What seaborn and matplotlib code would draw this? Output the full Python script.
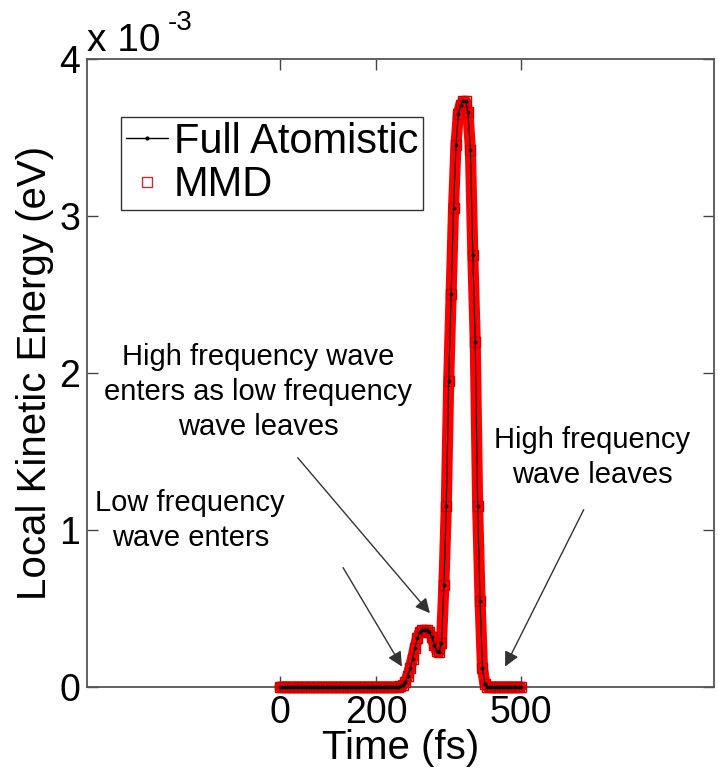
import matplotlib
matplotlib.use("Agg")
import matplotlib.pyplot as plt
import pandas as pd
import seaborn as sns
from matplotlib.lines import Line2D

# ---------------- data (energies in units of 1e-3 eV) ----------------
time_fs = [0, 5, 10, 15, 20, 25, 30, 35, 40, 45, 50, 55, 60, 65, 70, 75, 80, 85, 90, 95,
           100, 105, 110, 115, 120, 125, 130, 135, 140, 145, 150, 155, 160, 165, 170, 175,
           180, 185, 190, 195, 200, 205, 210, 215, 220, 225, 230, 235, 240, 245,
           250, 255, 260, 265, 270, 275, 280, 285, 290, 295, 300, 305, 310, 315, 320, 325,
           330, 335, 340, 345, 350, 355, 360, 365, 370, 375, 380, 385, 390, 395, 400, 405,
           410, 415, 420, 425,
           430, 435, 440, 445, 450, 455, 460, 465, 470, 475, 480, 485, 490, 495, 500]
full_atomistic = [0.0, 0.0, 0.0, 0.0, 0.0, 0.0, 0.0, 0.0, 0.0, 0.0, 0.0, 0.0, 0.0, 0.0, 0.0,
                  0.0, 0.0, 0.0, 0.0, 0.0, 0.0, 0.0, 0.0, 0.0, 0.0, 0.0, 0.0, 0.0, 0.0, 0.0,
                  0.0, 0.0, 0.0, 0.0, 0.0, 0.0, 0.0, 0.0, 0.0, 0.0, 0.0, 0.0, 0.0, 0.0, 0.0,
                  0.0, 0.0, 0.0, 0.0, 0.0,
                  0.005, 0.01, 0.03, 0.07, 0.12, 0.18, 0.25, 0.31, 0.35, 0.36, 0.36, 0.36,
                  0.35, 0.32, 0.27, 0.23, 0.22, 0.28, 0.65, 1.15, 1.95, 2.50, 3.05, 3.45,
                  3.65, 3.71, 3.73, 3.73, 3.66, 3.42, 2.75, 2.20, 1.15, 0.55, 0.12, 0.02,
                  0.0, 0.0, 0.0, 0.0, 0.0, 0.0, 0.0, 0.0, 0.0, 0.0, 0.0, 0.0, 0.0, 0.0, 0.0]
mmd = [0.0, 0.0, 0.0, 0.0, 0.0, 0.0, 0.0, 0.0, 0.0, 0.0, 0.0, 0.0, 0.0, 0.0, 0.0,
       0.0, 0.0, 0.0, 0.0, 0.0, 0.0, 0.0, 0.0, 0.0, 0.0, 0.0, 0.0, 0.0, 0.0, 0.0,
       0.0, 0.0, 0.0, 0.0, 0.0, 0.0, 0.0, 0.0, 0.0, 0.0, 0.0, 0.0, 0.0, 0.0, 0.0,
       0.0, 0.0, 0.0, 0.0, 0.0,
       0.005, 0.01, 0.03, 0.07, 0.12, 0.18, 0.25, 0.31, 0.35, 0.36, 0.36, 0.36,
       0.35, 0.32, 0.27, 0.23, 0.22, 0.28, 0.65, 1.15, 1.95, 2.50, 3.05, 3.45,
       3.65, 3.71, 3.73, 3.73, 3.66, 3.42, 2.75, 2.20, 1.15, 0.55, 0.12, 0.02,
       0.0, 0.0, 0.0, 0.0, 0.0, 0.0, 0.0, 0.0, 0.0, 0.0, 0.0, 0.0, 0.0, 0.0, 0.0]

series_labels = ["Full Atomistic", "MMD"]
x_ticks = [0, 200, 500]
y_ticks = [0, 1, 2, 3, 4]
x_label = "Time (fs)"
y_label = "Local Kinetic Energy (eV)"
annotations = [
    ("Low frequency\nwave enters", (-186, 1.06), (253, 0.13), (131, 0.76)),
    ("High frequency wave\nenters as low frequency\nwave leaves", (-45, 1.88), (311, 0.47), (37, 1.46)),
    ("High frequency\nwave leaves", (647, 1.46), (467, 0.13), (630, 1.13)),
]

df = pd.DataFrame({"time": time_fs, "fa": full_atomistic, "mmd": mmd})

# ---------------- style ----------------
sns.set_style("white")
plt.rcParams["font.family"] = ["Liberation Sans", "DejaVu Sans"]
plt.rcParams["text.color"] = "black"
plt.rcParams["axes.labelcolor"] = "black"

fig = plt.figure(figsize=(7.19, 7.76), dpi=100)
ax = fig.add_axes([0.121, 0.1147, 0.872, 0.8093])

# MMD: thick red band with hollow squares
sns.lineplot(data=df, x="time", y="mmd", ax=ax, color="#ff0000", linewidth=8,
             marker="s", markersize=7, markerfacecolor="none", markeredgecolor="#d00000",
             markeredgewidth=1.0, clip_on=False, legend=False, zorder=3)
# Full atomistic: thin black line with dots
sns.lineplot(data=df, x="time", y="fa", ax=ax, color="black", linewidth=0.8,
             marker=".", markersize=4, markeredgecolor="black", clip_on=False,
             legend=False, zorder=4)

ax.set_xlim(-400, 900)
ax.set_ylim(0, 4)
ax.set_xticks(x_ticks)
ax.set_yticks(y_ticks)
ax.tick_params(direction="in", length=8, width=1, colors="#444444", labelcolor="black",
               labelsize=27, top=True, right=True, bottom=True, left=True)
ax.tick_params(axis="x", pad=6)
ax.tick_params(axis="y", pad=5)
for s in ax.spines.values():
    s.set_color("#555555")
    s.set_linewidth(1.3)
    s.set_visible(True)

ax.set_xlabel(x_label, fontsize=29, labelpad=-2, color="black")
ax.set_ylabel(y_label, fontsize=29, labelpad=4, color="black")

# MATLAB-style exponent label
ax.text(0.0, 1.012, "x 10", transform=ax.transAxes, fontsize=28,
        ha="left", va="baseline", color="black")
ax.text(0.128, 1.046, "-3", transform=ax.transAxes, fontsize=20,
        ha="left", va="baseline", color="black")

for txt, txy, tip, tail in annotations:
    ax.text(txy[0], txy[1], txt, fontsize=21, ha="center", va="center",
            linespacing=1.32, color="black")
    ax.annotate("", xy=tip, xytext=tail,
                arrowprops=dict(arrowstyle="-|>", color="#333333", lw=1.0,
                                mutation_scale=22, shrinkA=0, shrinkB=0))

handles = [
    Line2D([], [], color="black", linewidth=1.0, marker=".", markersize=4),
    Line2D([], [], linestyle="none", marker="s", markersize=7,
           markerfacecolor="none", markeredgecolor="#c0303a", markeredgewidth=1.0),
]
leg = ax.legend(handles, series_labels, loc="upper left", bbox_to_anchor=(0.054, 0.908),
                borderaxespad=0, fontsize=30, frameon=True, fancybox=False,
                handlelength=1.0, handletextpad=0.15, labelspacing=0.08,
                borderpad=0.12)
leg.get_frame().set_edgecolor("black")
leg.get_frame().set_linewidth(1.0)
for t in leg.get_texts():
    t.set_color("black")

fig.savefig("out.png", dpi=100)
